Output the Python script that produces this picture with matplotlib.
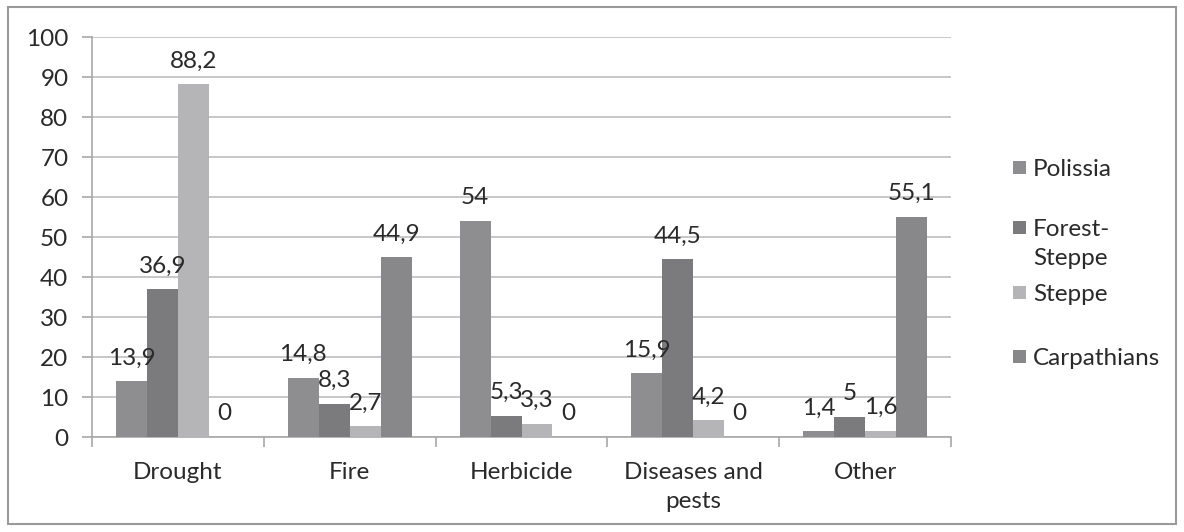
import matplotlib
matplotlib.use("Agg")
import matplotlib.pyplot as plt
import numpy as np
from matplotlib.patches import Rectangle

categories = ["Drought", "Fire", "Herbicide", "Diseases and\npests", "Other"]
series_names = ["Polissia", "Forest-\nSteppe", "Steppe", "Carpathians"]
polissia = [13.9, 14.8, 54, 15.9, 1.4]
forest_steppe = [36.9, 8.3, 5.3, 44.5, 5]
steppe = [88.2, 2.7, 3.3, 4.2, 1.6]
carpathians = [0, 44.9, 0, 0, 55.1]
series = [polissia, forest_steppe, steppe, carpathians]
colors = ["#8e8e90", "#7b7b7d", "#b5b5b7", "#88888b"]
yticks = [0, 10, 20, 30, 40, 50, 60, 70, 80, 90, 100]

def fmt(v):
    s = ("%g" % v)
    return s.replace(".", ",")

FS = 17.5
TXT = "#2a2a2a"
plt.rcParams['font.family'] = ['Lato', 'DejaVu Sans']
fig = plt.figure(figsize=(11.84, 5.32), dpi=100)
ax = fig.add_axes([92/1184, 1-437/532, (951-92)/1184, 400/532])

n = len(categories)
x = np.arange(n)
bw = 0.18
for i, (vals, c) in enumerate(zip(series, colors)):
    pos = x + (i - 1.5) * bw
    ax.bar(pos, vals, width=bw, color=c, zorder=3)
    for p, v in zip(pos, vals):
        ax.annotate(fmt(v), (p, v), xytext=(0, 9), textcoords="offset points",
                    ha="center", va="bottom", fontsize=FS, color=TXT, zorder=4)

ax.set_xlim(-0.5, n - 0.5)
ax.set_ylim(0, 100)
ax.set_yticks(yticks)
ax.set_yticklabels([str(t) for t in yticks], fontsize=FS, color=TXT)
ax.yaxis.grid(True, color="#bdbdbd", linewidth=1.2, zorder=0)
ax.set_axisbelow(True)
ax.tick_params(axis="y", length=7, width=1.2, color="#a8a8a8", pad=10)
ax.set_xticks(np.arange(n + 1) - 0.5, minor=False)
ax.set_xticklabels([])
ax.tick_params(axis="x", which="major", length=7, width=1.2, color="#a8a8a8")
ax.set_xticks(x, minor=True)
ax.set_xticklabels(categories, minor=True, fontsize=FS, color=TXT, linespacing=1.45)
ax.tick_params(axis="x", which="minor", length=0, pad=18)
for s in ["top", "right"]:
    ax.spines[s].set_visible(False)
for s in ["left", "bottom"]:
    ax.spines[s].set_color("#a8a8a8")
    ax.spines[s].set_linewidth(1.2)

# legend drawn manually
leg_y = [168, 228, 293, 357]
for name, c, yy in zip(series_names, colors, leg_y):
    fig.patches.append(Rectangle((1013/1184, 1-(yy+6)/532), 13/1184, 13/532,
                                 transform=fig.transFigure, facecolor=c, edgecolor="none"))
    fig.text(1033/1184, 1-(yy-9)/532, name, fontsize=FS, color=TXT,
             ha="left", va="top", linespacing=1.45)

fig.patches.append(Rectangle((8/1184, 1-524/532), 1168/1184, 517/532,
                             transform=fig.transFigure, facecolor="none",
                             edgecolor="#9a9a9a", linewidth=1.5))
fig.savefig("out.png", dpi=100)
